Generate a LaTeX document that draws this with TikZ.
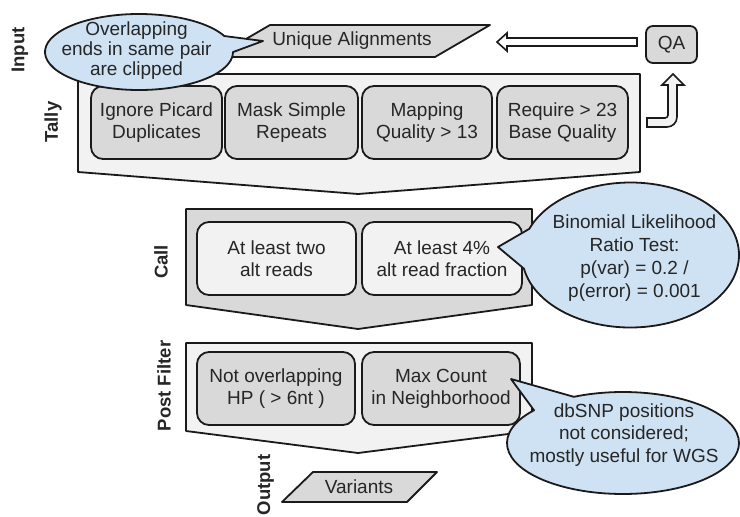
\documentclass[tikz,border=0pt]{standalone}
\usepackage{fontspec}
\setmainfont{Liberation Sans}
\usetikzlibrary{shapes.callouts,calc}
\definecolor{boxgray}{HTML}{D9D9D9}
\definecolor{paleg}{HTML}{F2F2F2}
\definecolor{calloutblue}{HTML}{CFE2F3}
\definecolor{inkc}{HTML}{1A1A1A}
\definecolor{textc}{HTML}{262626}
\begin{document}
\begin{tikzpicture}[x=1pt,y=-1pt,
  every node/.style={text=textc, font=\fontsize{19}{22}\selectfont},
  outline/.style={draw=inkc, line width=1.8pt, line join=round},
  filterbox/.style={outline, rounded corners=12pt, align=center, inner sep=0pt, minimum height=73pt},
  graybox/.style={filterbox, fill=boxgray},
  lightbox/.style={filterbox, fill=paleg},
  stagelabel/.style={rotate=90, inner sep=0pt, font=\fontsize{18.5}{22}\bfseries\selectfont},
  bubble/.style={ellipse callout, outline, fill=calloutblue, inner sep=0pt},
  bubbletext/.style={align=center, inner sep=0pt},
  hollow/.style={draw=inkc, line width=1.6pt, line join=miter}
]
\useasboundingbox (0,0) rectangle (740,517);

% Tally stage
\draw[outline, fill=paleg] (78,74) -- (640,74) -- (640,172) -- (358,194) -- (78,172) -- cycle;
\node[graybox, minimum width=131pt] (t1) at (156.5,122.5) {Ignore Picard\\Duplicates};
\node[graybox, minimum width=133pt] (t2) at (291.5,122.5) {Mask Simple\\Repeats};
\node[graybox, minimum width=130pt] (t3) at (427,122.5) {Mapping\\Quality > 13};
\node[graybox, minimum width=131pt] (t4) at (562.5,122.5) {Require > 23\\Base Quality};

% Input
\path[outline, fill=boxgray] (270,25) -- (490,25) -- (435,57) -- (215,57) -- cycle;
\node (ua) at (352,41) {Unique Alignments};

% QA
\node[outline, fill=boxgray, rounded corners=7pt, minimum width=51pt, minimum height=37pt, inner sep=0pt] (qa) at (671.5,44.5) {QA};

% hollow arrow QA -> Unique Alignments
\draw[hollow, fill=white] (637,38) -- (507,38) -- (507,33) -- (497,42) -- (507,51) -- (507,46) -- (637,46) -- cycle;

% bent hollow arrow Tally -> QA
\draw[hollow, fill=paleg] (677,85) -- (677,117) arc[start angle=0, end angle=90, radius=10]
  -- (647,127) -- (647,118) -- (665,118) arc[start angle=90, end angle=0, radius=3]
  -- (668,85) -- (662,85) -- (673,74) -- (684,85) -- cycle;

% Call stage
\draw[outline, fill=boxgray] (186,209) -- (532,209) -- (532,305) -- (358,329) -- (186,305) -- cycle;
\node[lightbox, minimum width=159pt] (c1b) at (276.5,258.5) {At least two\\alt reads};
\node[lightbox, minimum width=160pt] (c2b) at (442,258.5) {At least 4\%\\alt read fraction};

% Post filter stage
\draw[outline, fill=paleg] (186,343) -- (532,343) -- (532,431) -- (358,453) -- (186,431) -- cycle;
\node[graybox, minimum width=158pt] (p1) at (276,388.5) {Not overlapping\\HP ( > 6nt )};
\node[graybox, minimum width=158pt] (p2) at (441,388.5) {Max Count\\in Neighborhood};

% Output
\path[outline, fill=boxgray] (313,472) -- (437,472) -- (407,502) -- (282,502) -- cycle;
\node (var) at (359,487) {Variants};

% callouts
\node[bubble, minimum width=188pt, minimum height=76pt, callout absolute pointer={(263,41)}, callout pointer arc=25] (cb1) at (139,52) {};
\node[bubbletext, font=\fontsize{19}{20}\selectfont] (cb1t) at ($(cb1.center)+(-2.5,-1)$) {Overlapping\\ends in same pair\\are clipped};

\node[bubble, minimum width=217pt, minimum height=145pt, callout absolute pointer={(498,247)}, callout pointer arc=32] (cb2) at (630.5,255) {};
\node[bubbletext, font=\fontsize{19}{23}\selectfont] (cb2t) at ($(cb2.center)+(4,3)$) {Binomial Likelihood\\Ratio Test:\\p(var) = 0.2 /\\p(error) = 0.001};

\node[bubble, minimum width=232pt, minimum height=102pt, callout absolute pointer={(511,379)}, callout pointer arc=25] (cb3) at (623,443) {};
\node[bubbletext, font=\fontsize{19}{22.5}\selectfont] (cb3t) at ($(cb3.center)+(1,-8)$) {dbSNP positions\\not considered;\\mostly useful for WGS};

% stage labels
\node[stagelabel] (lin) at (20,50) {Input};
\node[stagelabel] (ltal) at (53,122) {Tally};
\node[stagelabel] (lcall) at (161,262) {Call};
\node[stagelabel] (lpost) at (164,386) {Post Filter};
\node[stagelabel] (lout) at (265.5,485) {Output};
\end{tikzpicture}
\end{document}
